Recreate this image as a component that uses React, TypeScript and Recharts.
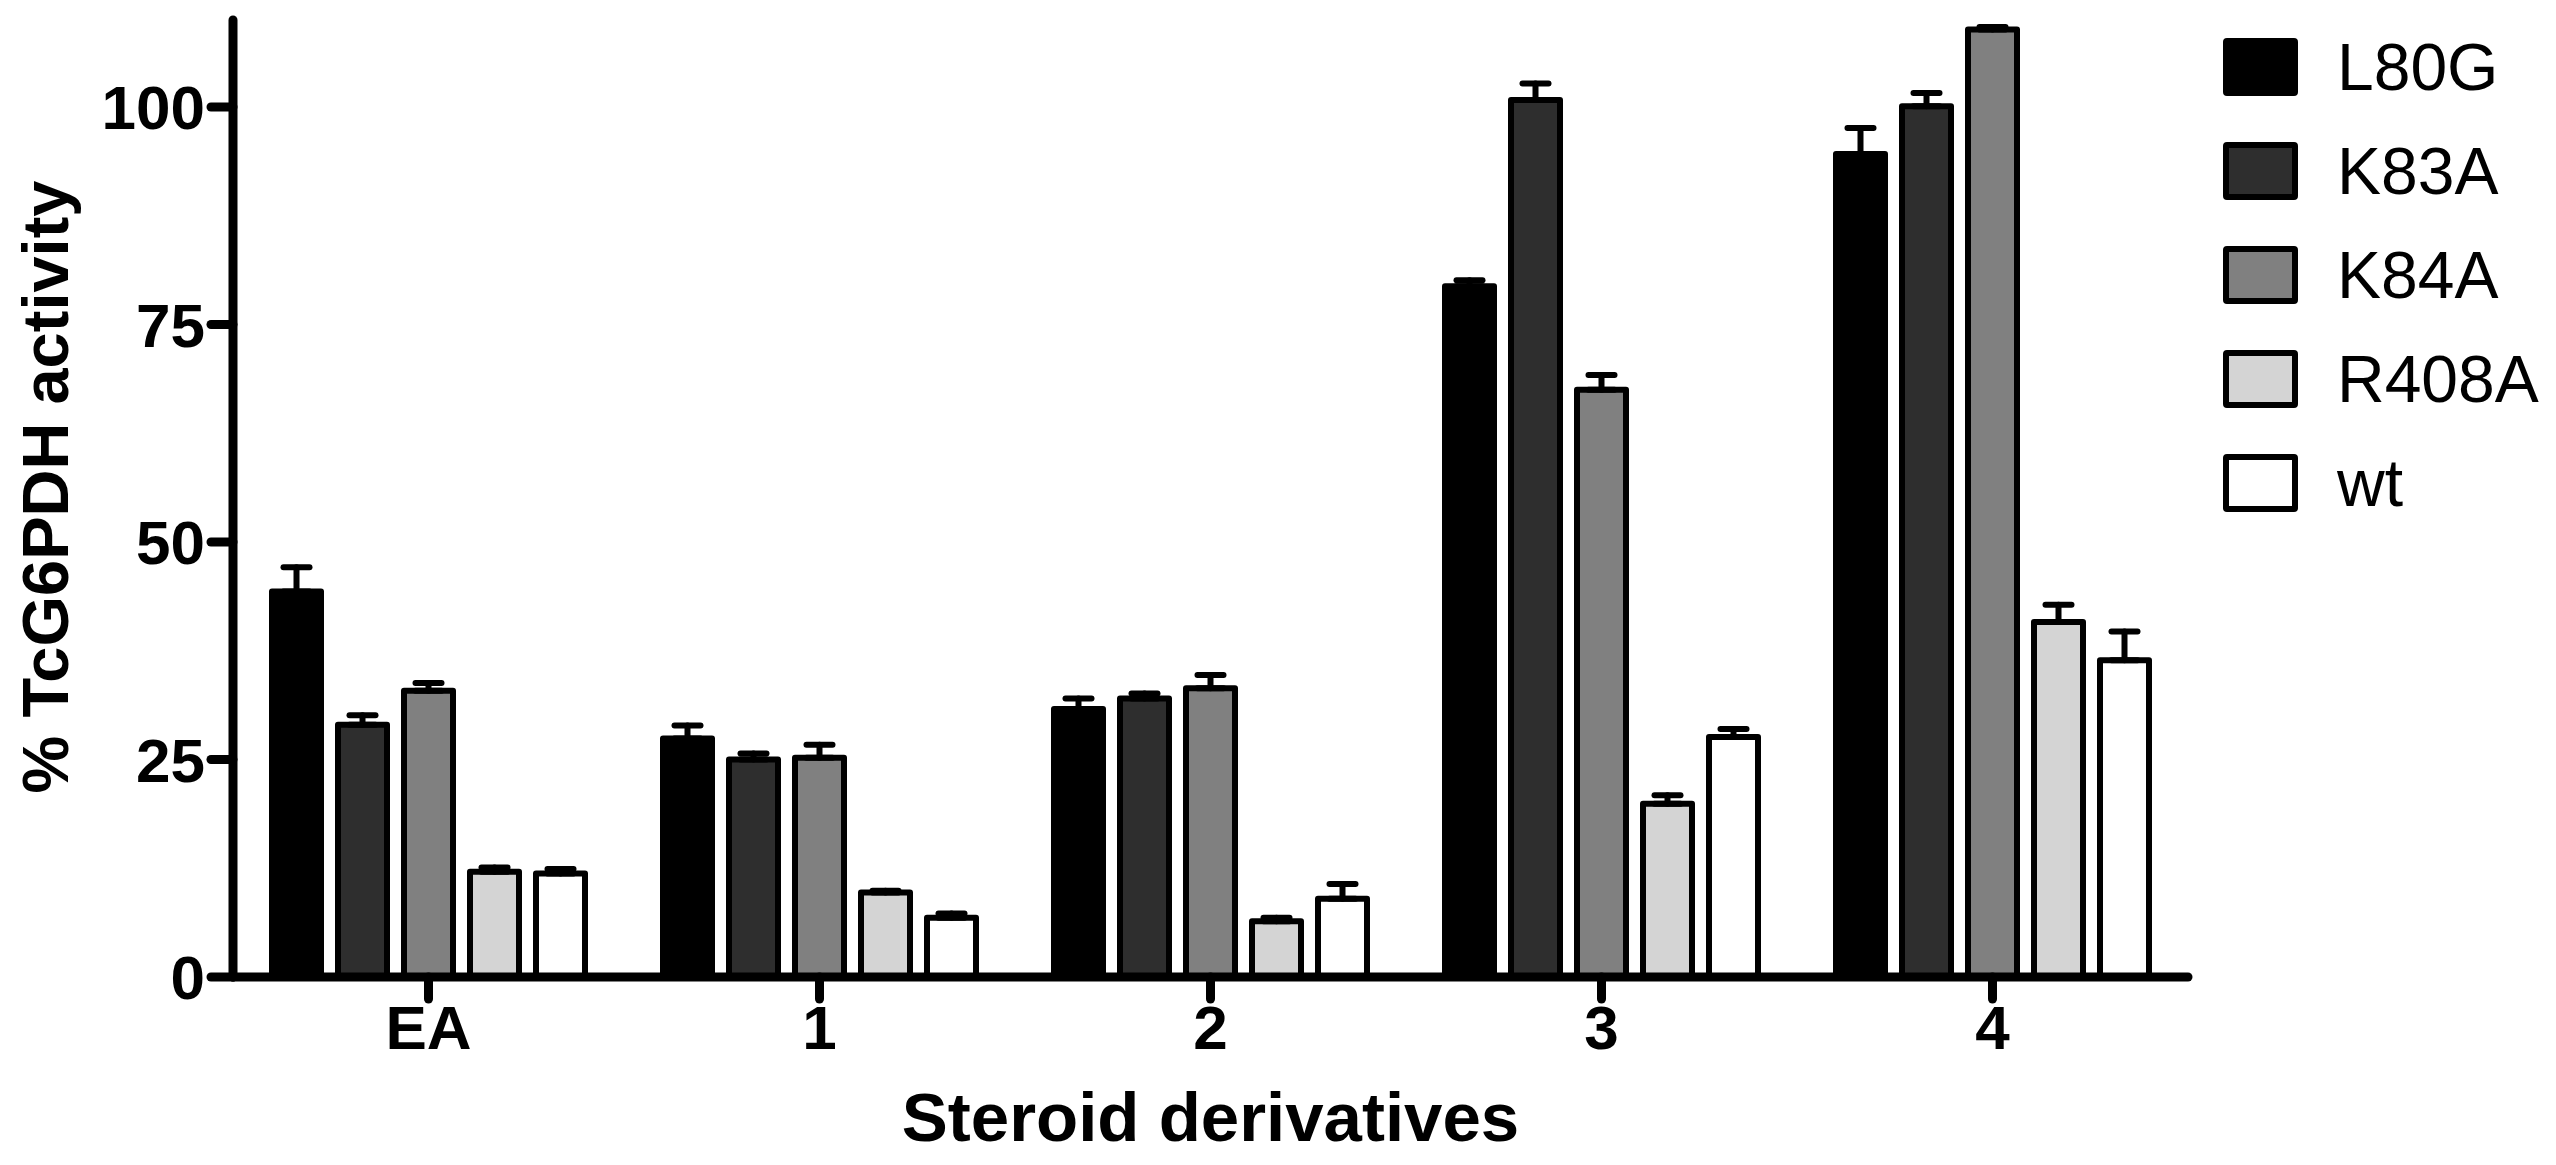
import React from 'react';
import { BarChart, Bar, XAxis, YAxis, ErrorBar, Legend } from 'recharts';

// categories and series
const compounds = ['EA', '1', '2', '3', '4'];
const mutants = ['L80G', 'K83A', 'K84A', 'R408A', 'wt'];
const fills = ['#000000', '#2e2e2e', '#808080', '#d4d4d4', '#ffffff'];

// % activity (mean) and SEM per mutant, one value per compound
const l80g = [44.3, 27.4, 30.8, 79.4, 94.6];
const l80gErr = [2.8, 1.5, 1.2, 0.7, 3.0];
const k83a = [29.0, 25.0, 32.0, 100.8, 100.1];
const k83aErr = [1.1, 0.7, 0.6, 1.9, 1.5];
const k84a = [32.9, 25.2, 33.2, 67.5, 108.9];
const k84aErr = [0.9, 1.5, 1.5, 1.7, 0.3];
const r408a = [12.1, 9.7, 6.4, 19.9, 40.8];
const r408aErr = [0.5, 0.2, 0.4, 1.0, 2.0];
const wt = [11.9, 6.8, 9.0, 27.6, 36.4];
const wtErr = [0.5, 0.5, 1.7, 0.9, 3.3];

const yTicks = [0, 25, 50, 75, 100];

const means = [l80g, k83a, k84a, r408a, wt];
const errs = [l80gErr, k83aErr, k84aErr, r408aErr, wtErr];

const chartData = compounds.map((c, i) => {
  const row: any = { compound: c };
  mutants.forEach((m, j) => {
    row[m] = means[j][i];
    // only the upper whisker is drawn
    row[`${m}_err`] = [0, errs[j][i]];
  });
  return row;
});

const FONT = '"Liberation Sans", Arial, Helvetica, sans-serif';
const LEGEND_W = 330;

const renderLegend = () => (
  <div style={{ fontFamily: FONT, width: LEGEND_W }}>
    {mutants.map((m, i) => (
      <div key={m} style={{ display: 'flex', alignItems: 'center', height: 104 }}>
        <div
          style={{
            width: 75,
            height: 58,
            boxSizing: 'border-box',
            border: '6px solid #000',
            borderRadius: 4,
            background: fills[i]
          }}
        />
        <span style={{ marginLeft: 39, fontSize: 66, color: '#000', lineHeight: 1 }}>{m}</span>
      </div>
    ))}
  </div>
);

const YTitle = (props: any) => {
  const { viewBox } = props;
  const x = viewBox.x + 68;
  const y = 487;
  return (
    <text
      x={x}
      y={y}
      transform={`rotate(-90, ${x}, ${y})`}
      textAnchor="middle"
      fontFamily={FONT}
      fontWeight="bold"
      fontSize={65}
      fill="#000"
    >
      % TcG6PDH activity
    </text>
  );
};

const XTitle = (props: any) => {
  const { viewBox } = props;
  return (
    <text
      x={viewBox.x + viewBox.width / 2}
      y={viewBox.y + viewBox.height - 24}
      textAnchor="middle"
      fontFamily={FONT}
      fontWeight="bold"
      fontSize={69}
      fill="#000"
    >
      Steroid derivatives
    </text>
  );
};

const App: React.FC = () => {
  return (
    <div style={{ position: 'absolute', left: 0, top: 0, width: 2556, height: 1165, background: '#fff' }}>
      <BarChart
        width={2556}
        height={1165}
        data={chartData}
        margin={{ top: 20, right: 368 - LEGEND_W, left: 0, bottom: 0 }}
        barSize={49}
        barGap={17}
      >
        <XAxis
          dataKey="compound"
          height={188}
          axisLine={{ stroke: '#000', strokeWidth: 9, strokeLinecap: 'round' }}
          tickLine={{ stroke: '#000', strokeWidth: 9, strokeLinecap: 'round' }}
          tickSize={22}
          tickMargin={6}
          tick={{ fill: '#000', fontSize: 62, fontWeight: 'bold', fontFamily: FONT }}
          label={{ content: XTitle }}
        />
        <YAxis
          width={233}
          domain={[0, 110]}
          ticks={yTicks}
          allowDataOverflow
          axisLine={{ stroke: '#000', strokeWidth: 9, strokeLinecap: 'round' }}
          tickLine={{ stroke: '#000', strokeWidth: 9, strokeLinecap: 'round' }}
          tickSize={22}
          tickMargin={6}
          tick={{ fill: '#000', fontSize: 62, fontWeight: 'bold', fontFamily: FONT }}
          label={{ content: YTitle }}
        />
        <Legend
          layout="vertical"
          verticalAlign="top"
          align="right"
          content={renderLegend}
          wrapperStyle={{ top: 15, left: 2223, width: LEGEND_W }}
        />
        {mutants.map((m, i) => (
          <Bar
            key={m}
            dataKey={m}
            fill={fills[i]}
            stroke="#000"
            strokeWidth={6}
            strokeLinejoin="round"
            isAnimationActive={false}
          >
            <ErrorBar
              dataKey={`${m}_err`}
              width={13}
              stroke="#000"
              strokeWidth={6}
              strokeLinecap="round"
              isAnimationActive={false}
            />
          </Bar>
        ))}
      </BarChart>
    </div>
  );
};

export default App;
